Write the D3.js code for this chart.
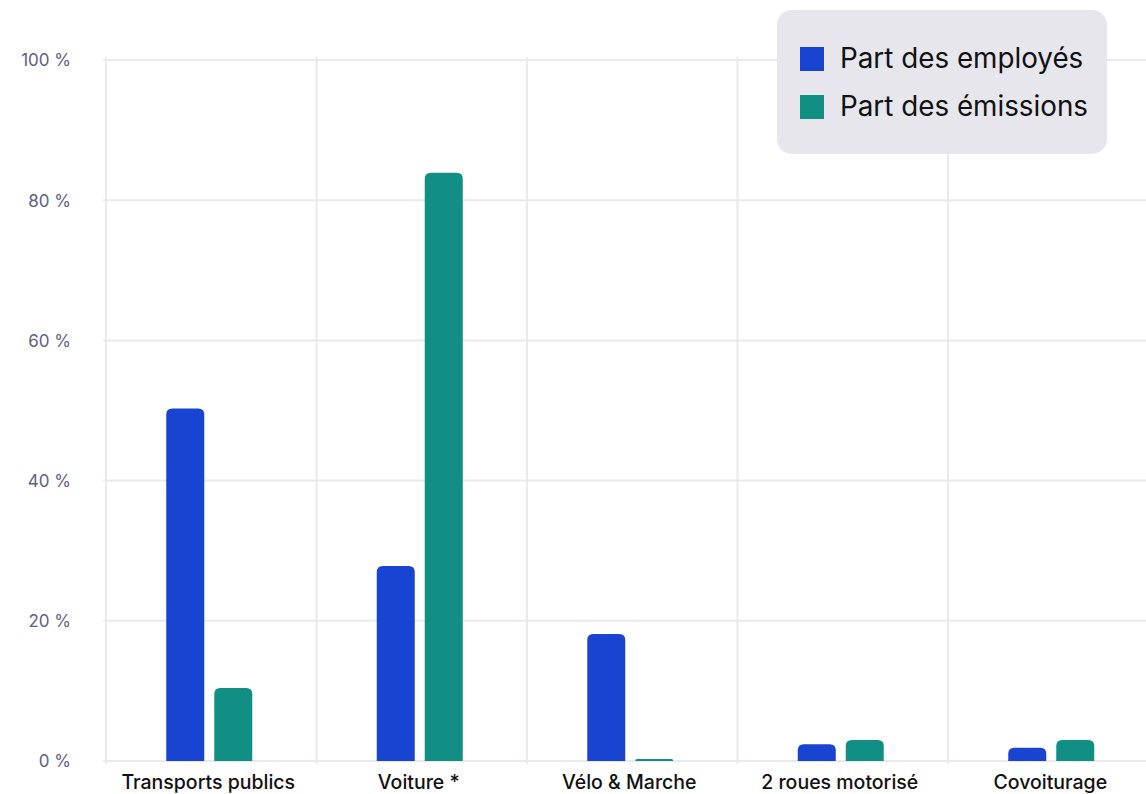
<!DOCTYPE html>
<html>
<head>
<meta charset="utf-8">
<script src="https://cdn.jsdelivr.net/npm/d3@7"></script>
<style>
  body { margin: 0; background: #fff; }
  svg { display: block; font-family: Inter, "Noto Sans", sans-serif; }
</style>
</head>
<body>
<script>
var categories = ["Transports publics", "Voiture *", "Vélo & Marche", "2 roues motorisé", "Covoiturage"];
var seriesNames = ["Part des employés", "Part des émissions"];
var employes = [50.3, 27.8, 18.1, 2.4, 1.9];
var emissions = [10.4, 83.9, 0.3, 3.0, 3.0];
var yTicks = [0, 20, 40, 60, 80, 100];

var colors = ["#1844d1", "#128f84"];

var width = 1146,
    height = 794,
    marginLeft = 106,
    marginTop = 60,
    plotBottom = 761,
    bandStep = 210.5;

var svg = d3.select("body").append("svg")
    .attr("width", width)
    .attr("height", height);

var x = d3.scaleBand()
    .domain(categories)
    .range([marginLeft, marginLeft + bandStep * categories.length])
    .paddingInner(0)
    .paddingOuter(0);

var y = d3.scaleLinear()
    .domain([0, 100])
    .range([plotBottom, marginTop]);

// grille horizontale
svg.append("g")
    .selectAll("line")
    .data(yTicks)
    .enter()
    .append("line")
    .attr("x1", marginLeft - 3)
    .attr("x2", width)
    .attr("y1", function (d) { return y(d); })
    .attr("y2", function (d) { return y(d); })
    .attr("stroke", "#e9e9f0")
    .attr("stroke-width", 2);

// grille verticale
svg.append("g")
    .selectAll("line")
    .data(categories)
    .enter()
    .append("line")
    .attr("x1", function (d) { return x(d); })
    .attr("x2", function (d) { return x(d); })
    .attr("y1", marginTop - 3)
    .attr("y2", plotBottom + 3)
    .attr("stroke", "#e9e9f0")
    .attr("stroke-width", 2);

// axe y
var yAxis = svg.append("g")
    .attr("transform", "translate(" + (marginLeft - 35) + ",0)")
    .call(d3.axisLeft(y).tickValues(yTicks).tickSize(0).tickFormat(function (d) { return d + " %"; }));
yAxis.select(".domain").remove();
yAxis.selectAll("text")
    .attr("x", 0)
    .attr("dy", "0.35em")
    .style("font-size", "17px")
    .style("font-family", "Inter, sans-serif")
    .attr("fill", "#5d6184");

// axe x
var xAxis = svg.append("g")
    .attr("transform", "translate(0," + plotBottom + ")")
    .call(d3.axisBottom(x).tickSize(0));
xAxis.select(".domain").remove();
xAxis.selectAll("text")
    .attr("x", -3)
    .attr("y", 28)
    .attr("dy", 0)
    .style("font-size", "19.5px")
    .style("font-weight", "500")
    .style("font-family", "Inter, sans-serif")
    .attr("fill", "#111");

// barres
var barW = 38, gap = 10, r = 6;

function barPath(x0, y0, w, h) {
    var rr = Math.min(r, h, w / 2);
    return "M" + x0 + "," + (y0 + h) +
        "V" + (y0 + rr) +
        "Q" + x0 + "," + y0 + " " + (x0 + rr) + "," + y0 +
        "H" + (x0 + w - rr) +
        "Q" + (x0 + w) + "," + y0 + " " + (x0 + w) + "," + (y0 + rr) +
        "V" + (y0 + h) + "Z";
}

var series = [employes, emissions];
series.forEach(function (vals, si) {
    svg.append("g")
        .selectAll("path")
        .data(categories)
        .enter()
        .append("path")
        .attr("d", function (d, i) {
            var cx = x(d) + x.bandwidth() / 2 - 2;
            var x0 = si == 0 ? cx - gap / 2 - barW : cx + gap / 2;
            var top = y(vals[i]);
            return barPath(x0, top, barW, plotBottom - top);
        })
        .attr("fill", colors[si]);
});

// légende
var legend = svg.append("g").attr("transform", "translate(777,10)");
legend.append("rect")
    .attr("width", 330)
    .attr("height", 144)
    .attr("rx", 15)
    .attr("fill", "#e6e6ec");

var items = legend.selectAll(".item")
    .data(seriesNames)
    .enter()
    .append("g")
    .attr("transform", function (d, i) { return "translate(23," + (37 + i * 48) + ")"; });

items.append("rect")
    .attr("width", 24)
    .attr("height", 24)
    .attr("fill", function (d, i) { return colors[i]; });

items.append("text")
    .attr("x", 40)
    .attr("y", 21)
    .style("font-size", "27.8px")
    .attr("fill", "#111")
    .text(function (d) { return d; });
</script>
</body>
</html>
